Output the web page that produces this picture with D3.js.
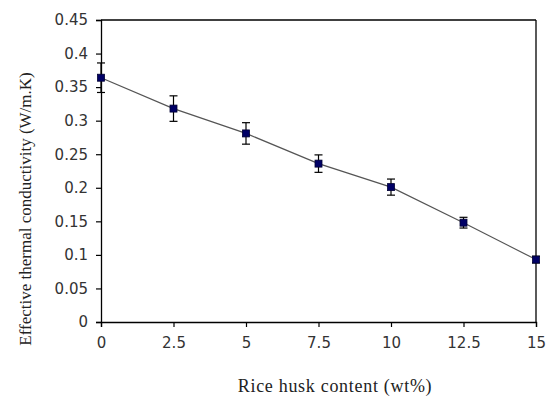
<!DOCTYPE html>
<html>
<head>
<meta charset="utf-8">
<script src="https://cdn.jsdelivr.net/npm/d3@7"></script>
<style>
  body { margin: 0; background: #fff; }
  svg { display: block; }
</style>
</head>
<body>
<svg id="chart"></svg>
<script>
// rice husk content (wt%) vs effective thermal conductivity
const huskContent = [0, 2.5, 5, 7.5, 10, 12.5, 15];
const conductivity = [0.364, 0.318, 0.281, 0.236, 0.201, 0.148, 0.093];
const errorBars = [0.022, 0.019, 0.016, 0.013, 0.012, 0.008, 0.005];
const xTicks = [0, 2.5, 5, 7.5, 10, 12.5, 15];
const yTicks = [0, 0.05, 0.1, 0.15, 0.2, 0.25, 0.3, 0.35, 0.4, 0.45];

const geom = {
  width: 553,
  height: 398,
  margins: { left: 101, right: 17, top: 20, bottom: 76 }
};

const x = d3.scaleLinear()
  .domain([0, 15])
  .range([geom.margins.left, geom.width - geom.margins.right]);
const y = d3.scaleLinear()
  .domain([0, 0.45])
  .range([geom.height - geom.margins.bottom, geom.margins.top]);

const svg = d3.select('#chart')
  .attr('width', geom.width)
  .attr('height', geom.height);

const data = huskContent.map((h, i) => ({ h: h, k: conductivity[i], e: errorBars[i] }));

// box: top and right edges
svg.append('line')
  .attr('x1', x(0)).attr('x2', x(15))
  .attr('y1', y(0.45)).attr('y2', y(0.45))
  .attr('stroke', '#000').attr('stroke-width', 1.3);
svg.append('line')
  .attr('x1', x(15)).attr('x2', x(15))
  .attr('y1', y(0.45)).attr('y2', y(0))
  .attr('stroke', '#000').attr('stroke-width', 1.3);

const xAxis = svg.append('g')
  .attr('transform', 'translate(0,' + y(0) + ')')
  .call(d3.axisBottom(x).tickValues(xTicks).tickSize(5).tickPadding(10)
    .tickFormat(d => String(d)));
const yAxis = svg.append('g')
  .attr('transform', 'translate(' + x(0) + ',0)')
  .call(d3.axisLeft(y).tickValues(yTicks).tickSize(5).tickPadding(8)
    .tickFormat(d => String(+d.toFixed(2))));

[xAxis, yAxis].forEach(g => {
  g.select('.domain').attr('stroke', '#000').attr('stroke-width', 1.3);
  g.selectAll('.tick line').attr('stroke', '#000').attr('stroke-width', 1.2);
  g.selectAll('.tick text')
    .attr('font-family', 'DejaVu Sans, sans-serif')
    .attr('font-size', '15px')
    .attr('fill', '#333');
});

// connecting line
svg.append('path')
  .datum(data)
  .attr('fill', 'none')
  .attr('stroke', '#555')
  .attr('stroke-width', 1.2)
  .attr('d', d3.line().x(d => x(d.h)).y(d => y(d.k)));

// error bars
const bars = svg.selectAll('g.err')
  .data(data)
  .enter()
  .append('g')
  .attr('class', 'err')
  .attr('stroke', '#000')
  .attr('stroke-width', 1.2);
bars.append('line')
  .attr('x1', d => x(d.h)).attr('x2', d => x(d.h))
  .attr('y1', d => y(d.k + d.e)).attr('y2', d => y(d.k - d.e));
bars.append('line')
  .attr('x1', d => x(d.h) - 4).attr('x2', d => x(d.h) + 4)
  .attr('y1', d => y(d.k + d.e)).attr('y2', d => y(d.k + d.e));
bars.append('line')
  .attr('x1', d => x(d.h) - 4).attr('x2', d => x(d.h) + 4)
  .attr('y1', d => y(d.k - d.e)).attr('y2', d => y(d.k - d.e));

// markers
svg.selectAll('rect.marker')
  .data(data)
  .enter()
  .append('rect')
  .attr('class', 'marker')
  .attr('x', d => x(d.h) - 3.5)
  .attr('y', d => y(d.k) - 3.5)
  .attr('width', 7)
  .attr('height', 7)
  .attr('fill', '#000066')
  .attr('stroke', '#000033')
  .attr('stroke-width', 0.8);

// axis titles
svg.append('text')
  .attr('x', 335)
  .attr('y', 392)
  .attr('text-anchor', 'middle')
  .attr('font-family', 'Liberation Serif, Times New Roman, serif')
  .attr('font-size', '18px')
  .attr('letter-spacing', '0.7px')
  .attr('fill', '#222')
  .text('Rice husk content (wt%)');

svg.append('text')
  .attr('transform', 'translate(31,209) rotate(-90)')
  .attr('text-anchor', 'middle')
  .attr('font-family', 'Liberation Serif, Times New Roman, serif')
  .attr('font-size', '17px')
  .attr('fill', '#222')
  .text('Effective thermal conductivity (W/m.K)');
</script>
</body>
</html>
